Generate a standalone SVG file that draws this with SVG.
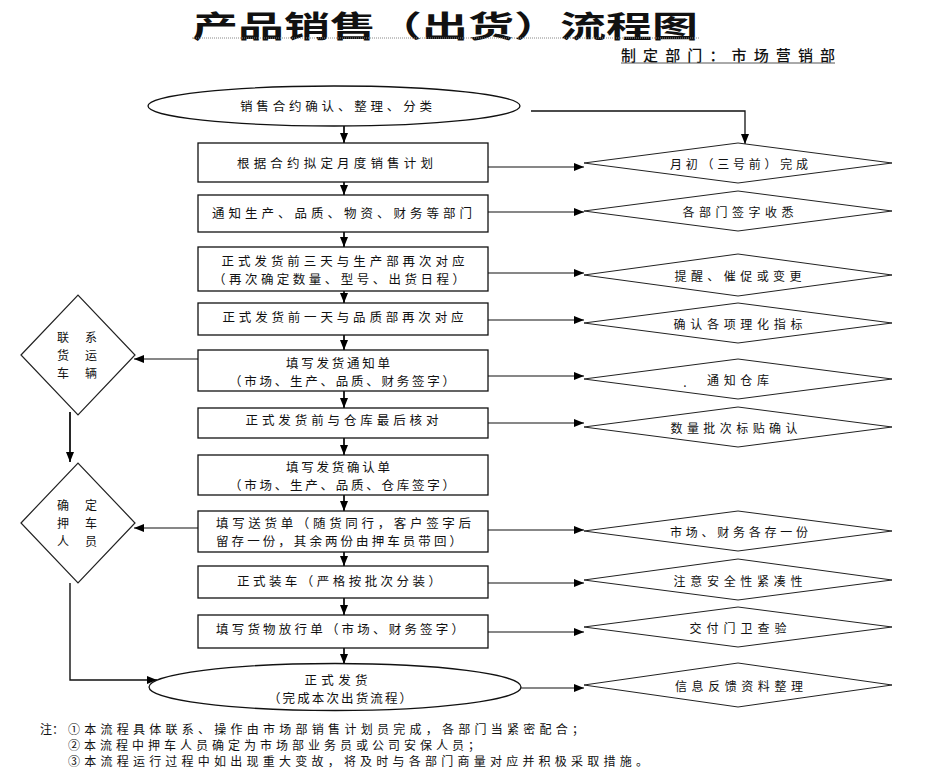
<svg xmlns="http://www.w3.org/2000/svg" width="952" height="774" viewBox="0 0 952 774">
<defs>
<marker id="ah" viewBox="0 0 10 8" refX="10" refY="4" markerWidth="10" markerHeight="8" markerUnits="userSpaceOnUse" orient="auto"><path d="M0,0 L10,4 L0,8 z" fill="#000"/></marker>
<style>
.t{font-family:"Noto Sans CJK SC","Liberation Sans",sans-serif;font-size:12.5px;fill:#111;dominant-baseline:central;text-anchor:middle}
.s{font-size:12px}
.box{fill:#fff;stroke:#111;stroke-width:1.3}
.dia{fill:#fff;stroke:#222;stroke-width:1}
.c{fill:none;stroke:#111;stroke-width:1.1;marker-end:url(#ah)}
.v{fill:none;stroke:#111;stroke-width:1.8;marker-end:url(#ah)}
.n{font-family:"Noto Sans CJK SC","Liberation Sans",sans-serif;font-size:12px;fill:#111;dominant-baseline:central}
</style>
</defs>
<rect width="952" height="774" fill="#fff"/>
<g id="title">
<text x="192" y="24" textLength="506" lengthAdjust="spacingAndGlyphs" style="font-family:'Noto Sans CJK SC',sans-serif;font-size:30px;font-weight:bold;fill:#111;dominant-baseline:central">产品销售（出货）流程图</text>
<line x1="192" y1="38" x2="700" y2="38" stroke="#888" stroke-width="1" stroke-dasharray="1,1"/>
<text x="621" y="54" textLength="214" style="font-family:'Noto Sans CJK SC',sans-serif;font-size:15px;font-weight:500;fill:#111;dominant-baseline:central">制定部门：市场营销部</text>
<line x1="621" y1="63" x2="835" y2="63" stroke="#555" stroke-width="1"/>
</g>
<g id="connectors">
<path class="v" d="M344,126 V143"/>
<path class="v" d="M344,182 V195"/>
<path class="v" d="M344,232 V247"/>
<path class="v" d="M344,291 V303"/>
<path class="v" d="M344,335 V350"/>
<path class="v" d="M344,391 V408"/>
<path class="v" d="M344,438 V455"/>
<path class="v" d="M344,495 V511"/>
<path class="v" d="M344,552 V566"/>
<path class="v" d="M344,598 V615"/>
<path class="v" d="M344,648 V664"/>
<path class="c" d="M531,111 H745 V144" style="stroke-width:1.3"/>
<path class="c" d="M488,167 H584"/>
<path class="c" d="M488,212 H584"/>
<path class="c" d="M488,273 H584"/>
<path class="c" d="M488,320 H584"/>
<path class="c" d="M488,376 H584"/>
<path class="c" d="M488,423 H584"/>
<path class="c" d="M488,530 H584"/>
<path class="c" d="M488,583 H584"/>
<path class="c" d="M488,632 H584"/>
<path class="c" d="M521,688 H584"/>
<path class="c" d="M198,359 H134"/>
<path class="v" d="M70,412 V462"/>
<path class="c" d="M198,528 H134"/>
<path class="c" d="M70,583 V680 H157" style="stroke-width:1.4"/>
</g>
<g id="n-start"><ellipse cx="334" cy="106" rx="186" ry="20" class="box"/><text class="t" x="336" y="105" textLength="192">销售合约确认、整理、分类</text></g>
<g id="n-a"><rect x="198" y="143" width="290" height="39" class="box"/><text class="t" x="335" y="162" textLength="196">根据合约拟定月度销售计划</text></g>
<g id="n-b"><rect x="198" y="195" width="290" height="37" class="box"/><text class="t" x="342" y="212" textLength="260">通知生产、品质、物资、财务等部门</text></g>
<g id="n-c"><rect x="198" y="247" width="290" height="44" class="box"/><text class="t" x="343" y="260" textLength="243">正式发货前三天与生产部再次对应</text><text class="t" x="339" y="278" textLength="252">（再次确定数量、型号、出货日程）</text></g>
<g id="n-d"><rect x="198" y="303" width="290" height="32" class="box"/><text class="t" x="343" y="316" textLength="241">正式发货前一天与品质部再次对应</text></g>
<g id="n-e"><rect x="198" y="350" width="290" height="41" class="box"/><text class="t" x="338" y="362" textLength="104">填写发货通知单</text><text class="t" x="342" y="380" textLength="226">（市场、生产、品质、财务签字）</text></g>
<g id="n-f"><rect x="198" y="408" width="290" height="30" class="box"/><text class="t" x="342" y="419" textLength="193">正式发货前与仓库最后核对</text></g>
<g id="n-g"><rect x="198" y="455" width="290" height="40" class="box"/><text class="t" x="338" y="466" textLength="104">填写发货确认单</text><text class="t" x="342" y="484" textLength="226">（市场、生产、品质、仓库签字）</text></g>
<g id="n-h"><rect x="198" y="511" width="290" height="41" class="box"/><text class="t" x="216" y="522" textLength="255" style="text-anchor:start">填写送货单（随货同行，客户签字后</text><text class="t" x="216" y="540" textLength="246" style="text-anchor:start">留存一份，其余两份由押车员带回）</text></g>
<g id="n-i"><rect x="198" y="566" width="290" height="32" class="box"/><text class="t" x="339" y="580" textLength="204">正式装车（严格按批次分装）</text></g>
<g id="n-j"><rect x="198" y="615" width="290" height="33" class="box"/><text class="t" x="340" y="628" textLength="248">填写货物放行单（市场、财务签字）</text></g>
<g id="n-end"><ellipse cx="335" cy="687" rx="186" ry="23.5" class="box"/><text class="t" x="336" y="679" textLength="63">正式发货</text><text class="t" x="340" y="697" textLength="144">（完成本次出货流程）</text></g>
<g id="r1"><path class="dia" d="M584,163 L738,143 L892,163 L738,183 Z"/><text class="t s" x="739" y="163" textLength="138">月初（三号前）完成</text></g>
<g id="r2"><path class="dia" d="M584,211 L738,191 L892,211 L738,231 Z"/><text class="t s" x="738" y="211" textLength="111">各部门签字收悉</text></g>
<g id="r3"><path class="dia" d="M584,275 L738,254 L892,275 L738,296 Z"/><text class="t s" x="738" y="275" textLength="127">提醒、催促或变更</text></g>
<g id="r4"><path class="dia" d="M584,323 L738,303 L892,323 L738,343 Z"/><text class="t s" x="738" y="323" textLength="129">确认各项理化指标</text></g>
<g id="r5"><path class="dia" d="M584,379 L738,359 L892,379 L738,399 Z"/><text class="t s" x="685" y="381">.</text><text class="t s" x="738" y="379" textLength="62">通知仓库</text></g>
<g id="r6"><path class="dia" d="M584,427 L738,407 L892,427 L738,447 Z"/><text class="t s" x="734" y="427" textLength="127">数量批次标贴确认</text></g>
<g id="r7"><path class="dia" d="M584,531 L738,511 L892,531 L738,551 Z"/><text class="t s" x="739" y="531" textLength="138">市场、财务各存一份</text></g>
<g id="r8"><path class="dia" d="M584,580 L738,559 L892,580 L738,600 Z"/><text class="t s" x="738" y="580" textLength="129">注意安全性紧凑性</text></g>
<g id="r9"><path class="dia" d="M584,627 L738,607 L892,627 L738,647 Z"/><text class="t s" x="738" y="627" textLength="97">交付门卫查验</text></g>
<g id="r10"><path class="dia" d="M584,685 L738,663 L892,685 L738,707 Z"/><text class="t s" x="739" y="685" textLength="128">信息反馈资料整理</text></g>
<g id="l1"><path class="dia" d="M21,355 L78,295 L135,355 L78,415 Z" style="stroke-width:1.2"/><text class="t s" x="77" y="336" textLength="40">联 系</text><text class="t s" x="77" y="354" textLength="40">货 运</text><text class="t s" x="77" y="372" textLength="40">车 辆</text></g>
<g id="l2"><path class="dia" d="M21,523 L78,463 L135,523 L78,583 Z" style="stroke-width:1.2"/><text class="t s" x="77" y="504" textLength="40">确 定</text><text class="t s" x="77" y="522" textLength="40">押 车</text><text class="t s" x="77" y="540" textLength="40">人 员</text></g>
<g id="notes">
<text class="n" x="40" y="728">注：</text>
<text class="n" x="68" y="728" textLength="516">①本流程具体联系、操作由市场部销售计划员完成，各部门当紧密配合；</text>
<text class="n" x="68" y="744" textLength="412">②本流程中押车人员确定为市场部业务员或公司安保人员；</text>
<text class="n" x="68" y="760" textLength="580">③本流程运行过程中如出现重大变故，将及时与各部门商量对应并积极采取措施。</text>
</g>
</svg>
